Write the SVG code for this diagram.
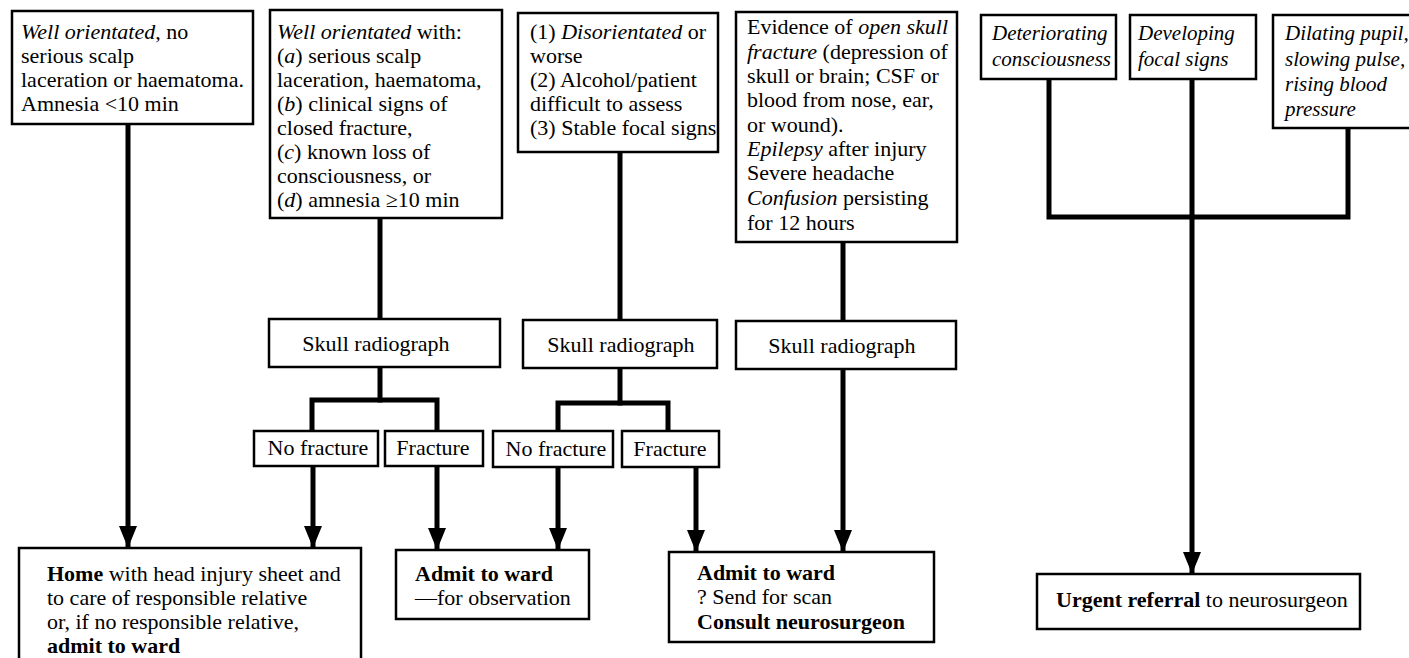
<svg xmlns="http://www.w3.org/2000/svg" width="1409" height="658" viewBox="0 0 1409 658">
<style>
.box{fill:#fff;stroke:#000;stroke-width:2.5}
.t{font-family:"Liberation Serif","Times New Roman",serif;font-size:22px;fill:#000}
.r{font-size:21px}
.m{text-anchor:middle}
.i{font-style:italic}
.b{font-weight:bold}
.ln{fill:none;stroke:#000;stroke-width:5;stroke-linejoin:miter;stroke-linecap:square}
.ar{fill:none;stroke:#000;stroke-width:5;marker-end:url(#ah)}
</style>
<defs>
<marker id="ah" markerUnits="userSpaceOnUse" markerWidth="22" markerHeight="18" refX="22" refY="9" orient="auto">
<path d="M0,0 L22,9 L0,18 z" fill="#000"/>
</marker>
</defs>
<rect width="1409" height="658" fill="#fff"/>
<g id="connectors">
<line class="ar" x1="128" y1="124" x2="128" y2="548"/>
<line class="ln" x1="380" y1="218" x2="380" y2="319"/>
<polyline class="ln" points="380,367 380,400"/>
<polyline class="ln" points="312,431 312,400 437,400 437,431"/>
<line class="ar" x1="313" y1="467" x2="313" y2="548"/>
<line class="ar" x1="437" y1="465" x2="437" y2="550"/>
<line class="ln" x1="620" y1="152" x2="620" y2="320"/>
<polyline class="ln" points="620,368 620,403"/>
<polyline class="ln" points="558,431 558,403 668,403 668,431"/>
<line class="ar" x1="558" y1="467" x2="558" y2="550"/>
<line class="ar" x1="696" y1="467" x2="696" y2="552"/>
<line class="ln" x1="843" y1="242" x2="843" y2="321"/>
<line class="ar" x1="843" y1="369" x2="843" y2="552"/>
<polyline class="ln" points="1049,79 1049,217 1348,217 1348,128"/>
<line class="ar" x1="1192" y1="79" x2="1192" y2="574"/>
</g>
<g id="n1">
<rect class="box" x="12" y="11" width="241" height="113"/>
<text class="t" x="21" y="39"><tspan class="i">Well orientated</tspan>, no</text>
<text class="t" x="21" y="63">serious scalp</text>
<text class="t" x="21" y="87">laceration or haematoma.</text>
<text class="t" x="21" y="111">Amnesia &lt;10 min</text>
</g>
<g id="n2">
<rect class="box" x="270" y="10" width="232" height="208"/>
<text class="t" x="277" y="39"><tspan class="i">Well orientated</tspan> with:</text>
<text class="t" x="277" y="63">(<tspan class="i">a</tspan>) serious scalp</text>
<text class="t" x="277" y="87">laceration, haematoma,</text>
<text class="t" x="277" y="111">(<tspan class="i">b</tspan>) clinical signs of</text>
<text class="t" x="277" y="135">closed fracture,</text>
<text class="t" x="277" y="159">(<tspan class="i">c</tspan>) known loss of</text>
<text class="t" x="277" y="183">consciousness, or</text>
<text class="t" x="277" y="207">(<tspan class="i">d</tspan>) amnesia ≥10 min</text>
</g>
<g id="n3">
<rect class="box" x="518" y="13" width="200" height="139"/>
<text class="t" x="530" y="39">(1) <tspan class="i">Disorientated</tspan> or</text>
<text class="t" x="530" y="63">worse</text>
<text class="t" x="530" y="87">(2) Alcohol/patient</text>
<text class="t" x="530" y="111">difficult to assess</text>
<text class="t" x="530" y="135">(3) Stable focal signs</text>
</g>
<g id="n4">
<rect class="box" x="736" y="12" width="221" height="230"/>
<text class="t" x="747" y="34">Evidence of <tspan class="i">open skull</tspan></text>
<text class="t" x="747" y="59"><tspan class="i">fracture</tspan> (depression of</text>
<text class="t" x="747" y="83">skull or brain; CSF or</text>
<text class="t" x="747" y="107">blood from nose, ear,</text>
<text class="t" x="747" y="132">or wound).</text>
<text class="t" x="747" y="156"><tspan class="i">Epilepsy</tspan> after injury</text>
<text class="t" x="747" y="180">Severe headache</text>
<text class="t" x="747" y="205"><tspan class="i">Confusion</tspan> persisting</text>
<text class="t" x="747" y="230">for 12 hours</text>
</g>
<g id="n5">
<rect class="box" x="981" y="15" width="135" height="64"/>
<text class="t r i" x="992" y="40">Deteriorating</text>
<text class="t r i" x="992" y="66">consciousness</text>
</g>
<g id="n6">
<rect class="box" x="1130" y="15" width="126" height="64"/>
<text class="t r i" x="1138" y="40">Developing</text>
<text class="t r i" x="1138" y="66">focal signs</text>
</g>
<g id="n7">
<rect class="box" x="1273" y="15" width="145" height="113"/>
<text class="t r i" x="1285" y="40">Dilating pupil,</text>
<text class="t r i" x="1285" y="66">slowing pulse,</text>
<text class="t r i" x="1285" y="91">rising blood</text>
<text class="t r i" x="1285" y="116">pressure</text>
</g>
<g id="s1">
<rect class="box" x="269" y="319" width="231" height="48"/>
<text class="t m" x="376" y="351">Skull radiograph</text>
</g>
<g id="s2">
<rect class="box" x="523" y="320" width="194" height="48"/>
<text class="t m" x="621" y="352">Skull radiograph</text>
</g>
<g id="s3">
<rect class="box" x="736" y="321" width="220" height="48"/>
<text class="t m" x="842" y="353">Skull radiograph</text>
</g>
<g id="nf1">
<rect class="box" x="254" y="431" width="124" height="35"/>
<text class="t m" x="318" y="455">No fracture</text>
</g>
<g id="f1">
<rect class="box" x="385" y="431" width="98" height="35"/>
<text class="t m" x="433" y="455">Fracture</text>
</g>
<g id="nf2">
<rect class="box" x="493" y="431" width="120" height="36"/>
<text class="t m" x="556" y="456">No fracture</text>
</g>
<g id="f2">
<rect class="box" x="622" y="431" width="97" height="36"/>
<text class="t m" x="670" y="456">Fracture</text>
</g>
<g id="home">
<rect class="box" x="19" y="548" width="342" height="130"/>
<text class="t" x="47" y="581"><tspan class="b">Home</tspan> with head injury sheet and</text>
<text class="t" x="47" y="605">to care of responsible relative</text>
<text class="t" x="47" y="629">or, if no responsible relative,</text>
<text class="t b" x="47" y="653">admit to ward</text>
</g>
<g id="admit1">
<rect class="box" x="396" y="550" width="193" height="69"/>
<text class="t b" x="415" y="581">Admit to ward</text>
<text class="t" x="415" y="605">—for observation</text>
</g>
<g id="admit2">
<rect class="box" x="669" y="552" width="265" height="90"/>
<text class="t b" x="697" y="580">Admit to ward</text>
<text class="t" x="697" y="604">? Send for scan</text>
<text class="t b" x="697" y="629">Consult neurosurgeon</text>
</g>
<g id="urgent">
<rect class="box" x="1037" y="574" width="323" height="55"/>
<text class="t" x="1056" y="607"><tspan class="b">Urgent referral</tspan> to neurosurgeon</text>
</g>
</svg>
